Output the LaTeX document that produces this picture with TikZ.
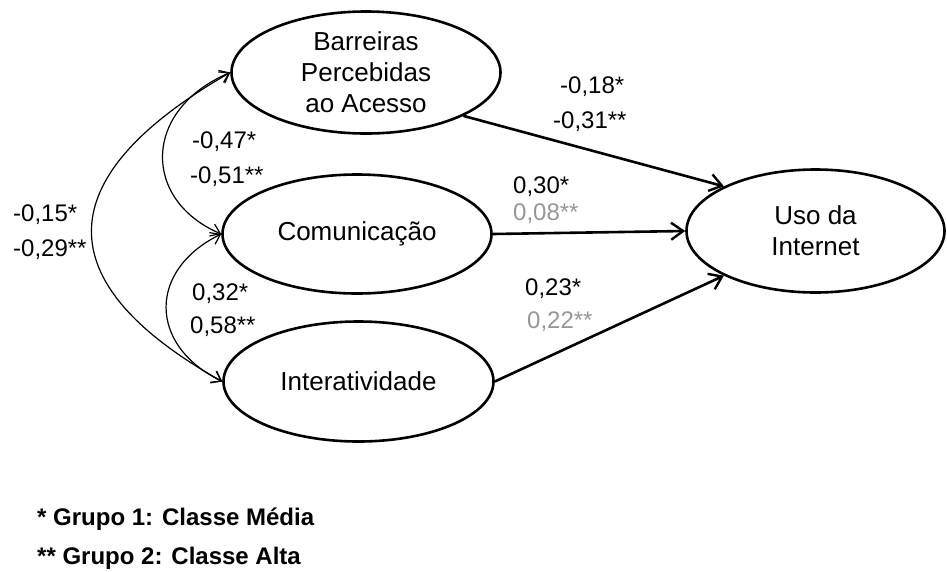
\documentclass[tikz,border=0pt]{standalone}
\usepackage{fontspec}
\setmainfont{Liberation Sans}
\usetikzlibrary{shapes.geometric,arrows.meta}
\definecolor{labgray}{RGB}{150,150,150}
\begin{document}
\begin{tikzpicture}[x=1pt,y=-1pt,
  ell/.style={ellipse,draw,line width=2.6pt,inner sep=0pt,align=center,
    font=\fontsize{26}{31}\selectfont},
  pathar/.style={line width=2.6pt,-{Straight Barb[length=12pt,width=17pt,line width=2.4pt]}},
  cov/.style={line width=1.2pt,
    {Straight Barb[length=9pt,width=13pt,line width=1.2pt]}-{Straight Barb[length=9pt,width=13pt,line width=1.2pt]}},
  lab/.style={anchor=base west,inner sep=0pt,font=\fontsize{24}{28}\selectfont},
  glab/.style={lab,text=labgray},
  leg/.style={anchor=base west,inner sep=0pt,font=\fontsize{24}{28}\selectfont\bfseries}]
\useasboundingbox (0,0) rectangle (947,571);

\node[ell,minimum width=269pt,minimum height=122pt] (B) at (366,72.5) {Barreiras\\Percebidas\\ao Acesso};
\node[ell,minimum width=269pt,minimum height=119pt] (C) at (357,234) {Comunicação};
\node[ell,minimum width=270pt,minimum height=120pt] (I) at (358.5,381.5) {Interatividade};
\node[ell,minimum width=258pt,minimum height=123pt] (U) at (815.5,231) {Uso da\\Internet};

\draw[pathar] (B.-24) -- (U.154);
\draw[pathar] (C.east) -- (U.west);
\draw[pathar] (I.east) -- (U.206);

\draw[cov] (I.west) .. controls (47,283) and (47,178) .. (B.west);
\draw[cov] (C.west) .. controls (142,200) and (142,110) .. (B.west);
\draw[cov] (I.west) .. controls (148,345) and (148,270) .. (C.west);

\node[lab] (l1) at (192,148.5) {-0,47*};
\node[lab] (l2) at (190,183.5) {-0,51**};
\node[lab] (l3) at (13,221.5) {-0,15*};
\node[lab] (l4) at (13,256.5) {-0,29**};
\node[lab] (l5) at (192,300.5) {0,32*};
\node[lab] (l6) at (190,333.5) {0,58**};
\node[lab] (l7) at (560,93.5) {-0,18*};
\node[lab] (l8) at (553,128.5) {-0,31**};
\node[lab] (l9) at (513,193.5) {0,30*};
\node[glab] (l10) at (513,220.5) {0,08**};
\node[lab] (l11) at (525,295.5) {0,23*};
\node[glab] (l12) at (527,328.5) {0,22**};

\node[leg] (g1) at (37,525.5) {* Grupo 1: Classe Média};
\node[leg] (g2) at (37,564.5) {** Grupo 2: Classe Alta};
\end{tikzpicture}
\end{document}
